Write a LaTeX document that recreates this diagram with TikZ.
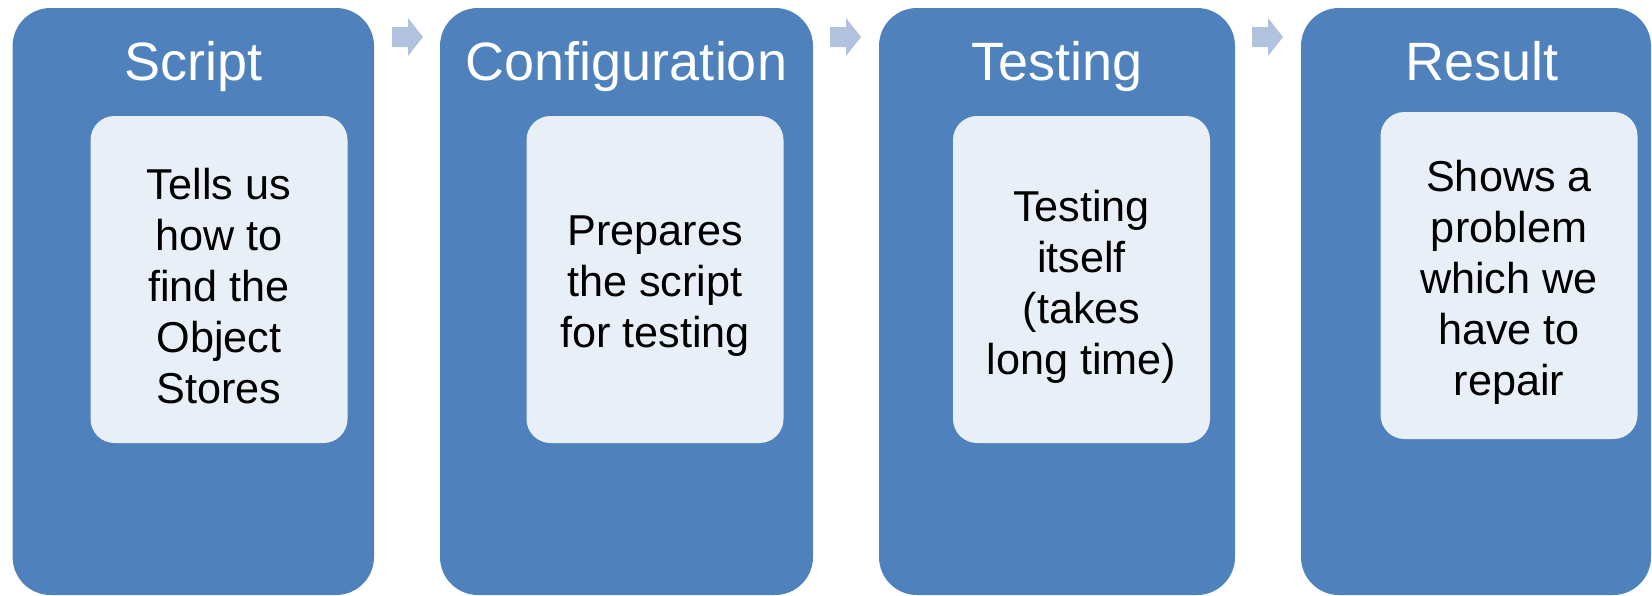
\documentclass[tikz,border=0pt]{standalone}
\usepackage{fontspec}
\setmainfont{Liberation Sans}
\definecolor{outerblue}{HTML}{4F81BD}
\definecolor{innerfill}{HTML}{E9EFF7}
\definecolor{arrowfill}{RGB}{176,194,222}
\begin{document}
\begin{tikzpicture}[x=0.5pt,y=-0.5pt,
  outerbox/.style={fill=outerblue, draw=none, rounded corners=19pt, inner sep=0pt, minimum height=293.5pt},
  innerbox/.style={fill=innerfill, draw=none, rounded corners=12pt, inner sep=0pt, minimum width=128.5pt, minimum height=163.5pt},
  bodytext/.style={align=center, text=black, inner sep=0pt, font=\fontsize{21.6}{25.5}\selectfont},
  titletext/.style={text=white, inner sep=0pt, anchor=base, font=\fontsize{27}{32}\selectfont},
  flowarrow/.pic={\fill[arrowfill] (0,0) -- (16,0) -- (16,-9) -- (31,10) -- (16,29) -- (16,20) -- (0,20) -- cycle;}
]
\useasboundingbox (0,0) rectangle (1652,595);
% outer boxes
\node[outerbox, minimum width=180.7pt] (b1) at (193.3,301.5) {};
\node[outerbox, minimum width=186.5pt] (b2) at (626.5,301.5) {};
\node[outerbox, minimum width=178pt] (b3) at (1057,301.5) {};
\node[outerbox, minimum width=175pt] (b4) at (1476,301.5) {};
% titles
\node[titletext] (t1) at (193.3,80) {Script};
\node[titletext] (t2) at (626.5,80) {Configuration};
\node[titletext] (t3) at (1057,80) {Testing};
\node[titletext] (t4) at (1482,80) {Result};
% inner boxes
\node[innerbox] (i1) at (219,279.5) {};
\node[innerbox] (i2) at (655,279.5) {};
\node[innerbox] (i3) at (1081.5,279.5) {};
\node[innerbox] (i4) at (1509,275.5) {};
% inner texts
\node[bodytext] (x1) at ([yshift=-3.5pt]i1.center) {Tells us\\how to\\find the\\Object\\Stores};
\node[bodytext] (x2) at ([yshift=-3.5pt]i2.center) {Prepares\\the script\\for testing};
\node[bodytext] (x3) at ([yshift=-3.5pt]i3.center) {Testing\\itself\\(takes\\long time)};
\node[bodytext] (x4) at ([yshift=-3.5pt]i4.center) {Shows a\\problem\\which we\\have to\\repair};
% arrows
\pic at (392,27) {flowarrow};
\pic at (830,27) {flowarrow};
\pic at (1252,27) {flowarrow};
\end{tikzpicture}
\end{document}
